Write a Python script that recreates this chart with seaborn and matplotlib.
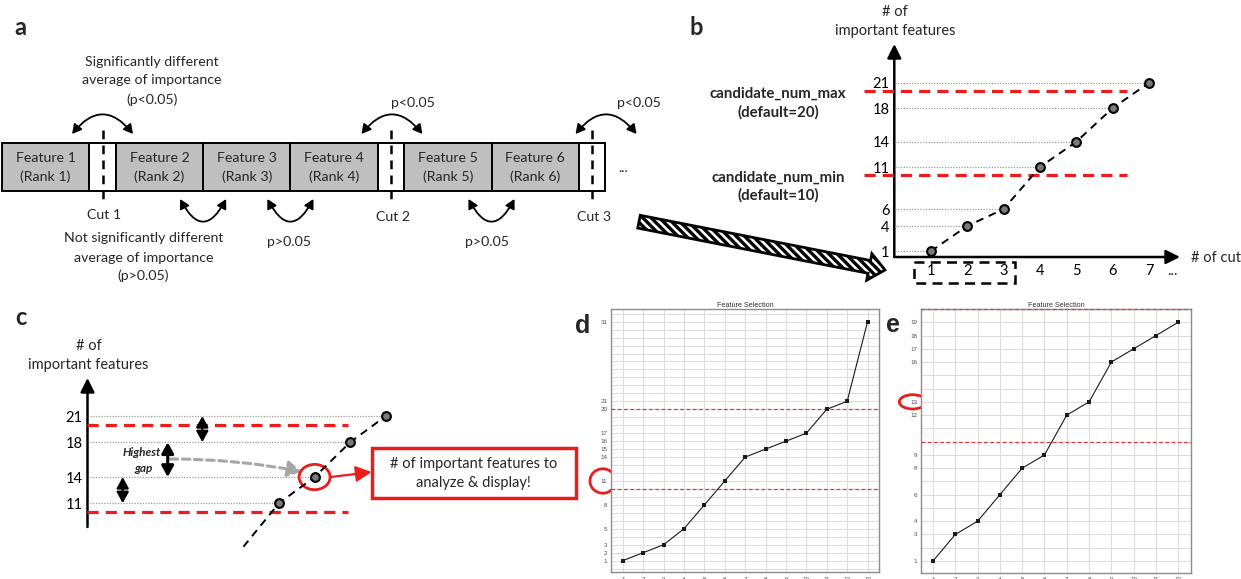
import matplotlib
matplotlib.use("Agg")
import matplotlib.pyplot as plt
from matplotlib.patches import Rectangle, FancyArrowPatch, FancyArrow, Ellipse
import seaborn as sns
import numpy as np

# ---------------- data ----------------
feature_names = ["Feature 1", "Feature 2", "Feature 3", "Feature 4", "Feature 5", "Feature 6"]
feature_ranks = ["(Rank 1)", "(Rank 2)", "(Rank 3)", "(Rank 4)", "(Rank 5)", "(Rank 6)"]
cut_after = [1, 4, 6]                      # a cut follows these features
cut_labels = ["Cut 1", "Cut 2", "Cut 3"]
sig_text = ["Significantly different", "average of importance", "(p<0.05)"]
nonsig_text = ["Not significantly different", "average of importance", "(p>0.05)"]
sig_p = "p<0.05"
nonsig_p = "p>0.05"

b_cut = [1, 2, 3, 4, 5, 6, 7]
b_num = [1, 4, 6, 11, 14, 18, 21]
candidate_num_min = 10
candidate_num_max = 20

c_cut = [3, 4, 5, 6, 7]
c_num = [6, 11, 14, 18, 21]
c_selected_cut = 5
c_selected = 14

d_cut = list(range(1, 14))
d_num = [1, 2, 3, 5, 8, 11, 14, 15, 16, 17, 20, 21, 31]
d_selected = 11

e_cut = list(range(1, 13))
e_num = [1, 3, 4, 6, 8, 9, 12, 13, 16, 17, 18, 19]
e_selected = 13

# ---------------- style ----------------
W, H = 1241, 579
sns.set_theme(style="white")
plt.rcParams['font.family'] = ['Lato', 'DejaVu Sans']
plt.rcParams['hatch.linewidth'] = 2.4
RED = '#ea1c1c'
GUIDE = '#9a9a9a'

fig = plt.figure(figsize=(W / 100, H / 100), dpi=100)
canvas = fig.add_axes([0, 0, 1, 1])
canvas.set_xlim(0, W)
canvas.set_ylim(H, 0)
canvas.axis('off')


def px_axes(x0, y0, x1, y1):
    ax = fig.add_axes([x0 / W, 1 - y1 / H, (x1 - x0) / W, (y1 - y0) / H])
    return ax


def to_px(ax, x, y):
    X, Y = ax.transData.transform((x, y))
    return X, H - Y


def xdata(ax, px):
    return ax.transData.inverted().transform((px, 0))[0]


def txt(x, y, s, size=10, ha='center', va='center', **kw):
    canvas.text(x, y, s, ha=ha, va=va, fontsize=size, **kw)


def arc(cx, y, hw, rad):
    canvas.add_patch(FancyArrowPatch((cx - hw, y), (cx + hw, y),
                                     connectionstyle=f"arc3,rad={rad}",
                                     arrowstyle="<|-|>,head_length=0.55,head_width=0.3",
                                     mutation_scale=10, lw=1.3, color='black',
                                     shrinkA=0, shrinkB=0))


def axis_arrow(x0, y0, x1, y1):
    canvas.add_patch(FancyArrowPatch((x0, y0), (x1, y1),
                                     arrowstyle='-|>,head_length=0.7,head_width=0.35',
                                     mutation_scale=12, lw=1.8, color='black',
                                     shrinkA=0, shrinkB=0))


# ================= panel a =================
txt(20, 35, 'a', size=17, va='baseline', fontweight='bold')
BOX_W, GAP_W = 87.3, 26.5
BAR_TOP, BAR_BOT = 143, 191
x = 2
cut_centers, junctions = [], []
for i, (nm, rk) in enumerate(zip(feature_names, feature_ranks), start=1):
    canvas.add_patch(Rectangle((x, BAR_TOP), BOX_W, BAR_BOT - BAR_TOP,
                               fc='#bfbfbf', ec='black', lw=1.4))
    txt(x + BOX_W / 2, 158.5, nm, size=10.2)
    txt(x + BOX_W / 2, 176.5, rk, size=10.2)
    x += BOX_W
    if i in cut_after:
        canvas.add_patch(Rectangle((x, BAR_TOP), GAP_W, BAR_BOT - BAR_TOP,
                                   fc='white', ec='black', lw=1.4))
        cut_centers.append(x + GAP_W / 2)
        x += GAP_W
    else:
        junctions.append(x)
txt(623, 172, '...', va='baseline')

for cx, lab, ly in zip(cut_centers, cut_labels, [215, 217, 217]):
    canvas.plot([cx, cx], [130, 202], color='black', lw=1.8, linestyle=(0, (3.5, 2.5)))
    txt(cx + 2, ly, lab, size=10.2)

for cx in [cut_centers[0], cut_centers[1] + 1, cut_centers[2] + 14]:
    arc(cx, 134, 30.5, -0.62)
for jx in junctions:
    arc(jx, 199, 23, 0.95)

for yy, s in zip([62, 80.5, 99.5], sig_text):
    txt(152, yy, s, size=10.2)
for yy, s in zip([238.5, 257.5, 276], nonsig_text):
    txt(143.5, yy, s, size=10.2)
txt(413, 103, sig_p, size=10.2)
txt(639, 103, sig_p, size=10.2)
txt(289, 242, nonsig_p, size=10.2)
txt(487, 242, nonsig_p, size=10.2)

# hatched transition arrow
canvas.add_patch(FancyArrow(639, 221.7, 246, 48.3, width=13, head_width=27, head_length=16,
                            length_includes_head=True, fc='white', ec='black', lw=2,
                            hatch='\\\\\\\\'))

# ================= panel b =================
txt(696.5, 35, 'b', size=17, va='baseline', fontweight='bold')
txt(895, 12.5, '# of', size=10.5)
txt(895, 31, 'important features', size=10.5)
txt(1216, 258, '# of cut', size=10.5)
txt(1172, 275, '...', size=10.5, va='baseline')
txt(778, 94, 'candidate_num_max', size=10.8, fontweight='bold')
txt(778, 112.5, '(default=20)', size=10.8, fontweight='bold')
txt(778, 177.5, 'candidate_num_min', size=10.8, fontweight='bold')
txt(778, 195.5, '(default=10)', size=10.8, fontweight='bold')

axb = px_axes(894.3, 45, 1179.5, 257)
axb.set_facecolor('none')
for s in axb.spines.values():
    s.set_visible(False)
axb.hlines(b_num, 0.03, np.array(b_cut) - 0.1, colors=GUIDE, linestyles=(0, (1, 1.2)), lw=0.9)
axb.hlines([candidate_num_min, candidate_num_max], -0.83, 6.39, colors=RED, lw=2.3,
           linestyles=(0, (3.5, 2.2)), clip_on=False)
sns.lineplot(x=b_cut, y=b_num, ax=axb, color='black', lw=1.4, linestyle=(0, (4, 3)))
sns.scatterplot(x=b_cut, y=b_num, ax=axb, s=40, color='#7a7a7a', edgecolor='black',
                linewidth=1.5, zorder=5)
axb.set_xticks(b_cut)
axb.set_yticks(b_num)
axb.set_xlim(0, 7.835)
axb.set_ylim(0.33, 25.48)
axb.tick_params(axis='x', length=0, labelsize=10.5, pad=5, labelcolor='black')
axb.tick_params(axis='y', length=0, labelsize=10.5, pad=3.5, labelcolor='black')
axis_arrow(894.3, 257, 894.3, 44)
axis_arrow(894.3, 257, 1180, 257)
canvas.add_patch(Rectangle((913.8, 262), 101.2, 21, fill=False, ec='black', lw=1.8,
                           linestyle=(0, (4, 2.5))))

# ================= panel c =================
txt(21.4, 325, 'c', size=17, va='baseline', fontweight='bold')
txt(88.4, 346, '# of', size=10.5)
txt(88.4, 365, 'important features', size=10.5)

axc = px_axes(87.5, 379, 400, 550)
axc.set_facecolor('none')
axc.set_xlim(-1.379, 7.399)
axc.set_ylim(5.624, 25.256)
for s in axc.spines.values():
    s.set_visible(False)
axc.hlines(c_num[1:], xdata(axc, 90), np.array(c_cut[1:]) - 0.15, colors=GUIDE,
           linestyles=(0, (1, 1.2)), lw=0.9)
axc.hlines([candidate_num_min, candidate_num_max], -1.379, 5.94, colors=RED, lw=2.3,
           linestyles=(0, (3.5, 2.2)), clip_on=False)
sns.lineplot(x=c_cut, y=c_num, ax=axc, color='black', lw=1.4, linestyle=(0, (4, 3)))
sns.scatterplot(x=c_cut[1:], y=c_num[1:], ax=axc, s=40, color='#7a7a7a', edgecolor='black',
                linewidth=1.5, zorder=5)
axc.set_xticks([])
axc.set_yticks(c_num[1:])
axc.set_xlim(-1.379, 7.399)
axc.set_ylim(5.624, 25.256)
axc.tick_params(axis='y', length=0, labelsize=10.5, pad=3.5, labelcolor='black')
axis_arrow(87.5, 527, 87.5, 378)

# gap arrows (between consecutive candidate counts)
gap_x = [122.7, 167.7, 202.3]
cand = c_num[1:]
gaps = np.diff(cand)
for k, gx in enumerate(gap_x):
    lo, hi = cand[k], cand[k + 1]
    big = k == int(np.argmax(gaps))
    axc.annotate('', xy=(xdata(axc, gx), lo), xytext=(xdata(axc, gx), hi),
                 arrowprops=dict(arrowstyle='<|-|>,head_length=0.55,head_width=0.3',
                                 lw=2.2 if big else 1.6, color='black',
                                 shrinkA=0, shrinkB=0, mutation_scale=12))
txt(141.7, 452.7, 'Highest', size=8.5, fontweight='bold', fontstyle='italic')
txt(143.3, 468.3, 'gap', size=8.5, fontweight='bold', fontstyle='italic')
canvas.add_patch(FancyArrowPatch((170, 459), (301.7, 471.7), connectionstyle='arc3,rad=-0.05',
                                 arrowstyle='-|>,head_length=0.7,head_width=0.4',
                                 mutation_scale=12, color='#a6a6a6', lw=2.2,
                                 linestyle=(0, (2.5, 1.5)), shrinkA=0, shrinkB=0))
sx, sy = to_px(axc, c_selected_cut, c_selected)
canvas.add_patch(Ellipse((sx, sy), 31, 25.3, fill=False, ec=RED, lw=2))
canvas.add_patch(FancyArrowPatch((sx + 16, sy), (371.7, 472),
                                 arrowstyle='-|>,head_length=0.8,head_width=0.4',
                                 mutation_scale=12, color=RED, lw=1.6, shrinkA=0, shrinkB=0))
canvas.add_patch(Rectangle((371.7, 448.3), 204, 49.4, fill=False, ec=RED, lw=2.5))
txt(473.6, 464, '# of important features to', size=10.5)
txt(473.6, 482.7, 'analyze & display!', size=10.5)

# ================= panels d, e =================
SMALL_FONT = ['Liberation Sans', 'DejaVu Sans']


def feature_panel(ax, cuts, nums, ylim, xlim):
    ax.set_yticks(np.arange(np.ceil(ylim[0]), np.floor(ylim[1]) + 1), minor=True)
    ax.set_yticks(nums)
    ax.set_xticks(cuts)
    ax.grid(which='both', color='#dcdcdc', lw=0.8)
    ax.set_axisbelow(True)
    ax.tick_params(which='both', length=0)
    ax.tick_params(axis='y', pad=2.4, labelsize=4.5, labelcolor='#4d4d4d')
    ax.tick_params(axis='x', pad=3.4, labelsize=4.5, labelcolor='#4d4d4d')
    for lab in ax.get_xticklabels() + ax.get_yticklabels():
        lab.set_family(SMALL_FONT)
    for s in ax.spines.values():
        s.set_color('#8c8c8c')
        s.set_linewidth(1)
    for v in [candidate_num_min, candidate_num_max]:
        ax.axhline(v, color='#e23a3a', lw=0.9, linestyle=(0, (3, 2)), clip_on=False, zorder=4)
    sns.lineplot(x=cuts, y=nums, ax=ax, color='#1a1a1a', lw=0.8, marker='s',
                 markersize=2.6, markeredgewidth=0, zorder=5)
    ax.set_title('Feature Selection', fontsize=5.2, color='#333333', pad=1.5,
                 family=SMALL_FONT)
    ax.set_xlabel('')
    ax.set_ylabel('')
    ax.set_xlim(*xlim)
    ax.set_ylim(*ylim)


axd = px_axes(610.7, 309.3, 879, 572.3)
feature_panel(axd, d_cut, d_num, (-0.46, 32.55), (0.41, 13.56))
axe = px_axes(920.7, 309, 1191, 572.7)
feature_panel(axe, e_cut, e_num, (0.12, 20), (0.45, 12.57))

txt(583, 333, 'd', size=18, va='baseline', fontweight='bold', family=SMALL_FONT)
txt(893, 332, 'e', size=18, va='baseline', fontweight='bold', family=SMALL_FONT)

dy = to_px(axd, 1, d_selected)[1]
canvas.add_patch(Ellipse((602.8, dy), 25.7, 24.4, fill=False, ec=RED, lw=2, clip_on=False))
ey = to_px(axe, 1, e_selected)[1]
canvas.add_patch(Ellipse((912.7, ey), 26.7, 14.3, fill=False, ec=RED, lw=2, clip_on=False))

fig.savefig('out.png', dpi=100)
